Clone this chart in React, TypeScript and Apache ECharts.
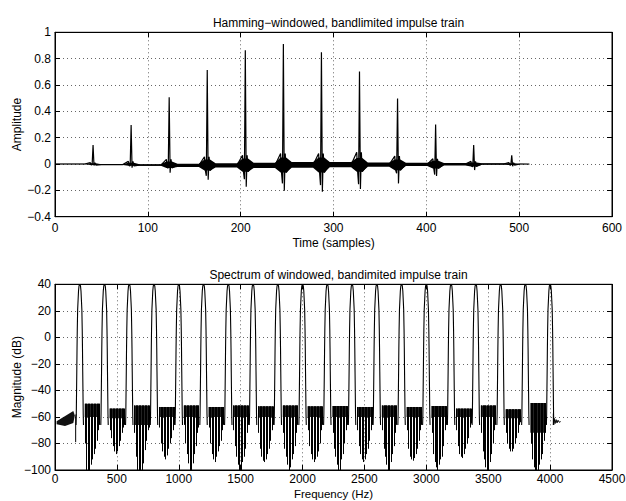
import React, { useEffect, useRef } from "react";
import * as echarts from "echarts";

const FONT = "'Liberation Sans', Arial, Helvetica, sans-serif";

// ---------- Top plot: Hamming-windowed, bandlimited impulse train ----------
const timeTicks = { min: 0, max: 600, interval: 100 };
const ampTicks = { min: -0.4, max: 1, interval: 0.2 };
const pulseTimes = [41, 82, 123, 164, 205, 246, 287, 328, 369, 410, 451, 492];
const pulsePeaks = [0.144, 0.296, 0.507, 0.714, 0.864, 0.912, 0.848, 0.703, 0.497, 0.3, 0.144, 0.066];
const dipBefore = [-0.005, -0.012, -0.03, -0.09, -0.116, -0.147, -0.16, -0.154, -0.07, -0.08, -0.02, -0.008];
const dipAfter = [-0.012, -0.028, -0.066, -0.12, -0.172, -0.203, -0.21, -0.19, -0.147, -0.09, -0.046, -0.017];
const ringUpper = [0.006, 0.01, 0.02, 0.035, 0.042, 0.05, 0.05, 0.045, 0.035, 0.024, 0.012, 0.006];
const ringLower = [-0.008, -0.014, -0.03, -0.05, -0.058, -0.065, -0.065, -0.058, -0.048, -0.034, -0.018, -0.008];
const ringSpikeUp = [0.01, 0.02, 0.035, 0.055, 0.066, 0.08, 0.08, 0.09, 0.06, 0.04, 0.02, 0.01];
const gapCenter = [0, -0.004, -0.008, -0.01, -0.01, -0.01, -0.007, -0.005, -0.005, -0.003, -0.002, 0, 0];
const gapHalf = [0.002, 0.003, 0.006, 0.012, 0.016, 0.02, 0.022, 0.02, 0.016, 0.013, 0.009, 0.005, 0.002];
const signalEnd = 511;

// ---------- Bottom plot: spectrum ----------
const freqTicks = { min: 0, max: 4500, interval: 500 };
const dbTicks = { min: -100, max: 40, interval: 20 };
const harmonics = [200, 400, 600, 800, 1000, 1200, 1400, 1600, 1800, 2000, 2200, 2400, 2600, 2800, 3000, 3200, 3400, 3600, 3800, 4000];
const lobeOffsets = [-30, -28, -26, -24, -22, -20, -17, -14, -10, -6, 0, 6, 10, 14, 17, 20, 22, 24, 26, 28, 30];
const lobeDb = [-66, -58, -42, -26, -8, 6, 21, 27, 35, 38.8, 40, 38.8, 35, 27, 21, 6, -8, -26, -42, -58, -66];
const bandTops = [-50, -53.7, -51.3, -52.5, -51.3, -52.5, -51.3, -52, -51.3, -52, -51.8, -52.5, -51.3, -52.5, -51.8, -53.7, -51.3, -54.2, -49.5];
const solidBottoms = [-60, -61, -66, -60, -60, -60, -60, -60, -60, -60, -60, -60, -60, -60, -60, -60, -60, -61, -72];
const stripeOffsets = [42, 54, 66, 78, 90, 102, 114, 126, 138, 150, 158];
const stripeDepths = [
  [-80, -100, -100, -100, -96, -92, -88, -84, -78, -70, -66],
  [-70, -76, -82, -86, -88, -86, -82, -78, -72, -68, -66],
  [-72, -90, -100, -100, -100, -100, -95, -85, -78, -70, -68],
  [-68, -80, -86, -90, -92, -89, -84, -80, -76, -70, -66],
  [-66, -80, -88, -95, -100, -100, -95, -88, -82, -72, -68],
  [-68, -80, -88, -92, -94, -90, -86, -82, -78, -70, -66],
  [-70, -82, -90, -96, -100, -100, -94, -90, -84, -72, -66],
  [-72, -84, -90, -93, -94, -92, -88, -84, -78, -70, -66],
  [-72, -84, -90, -96, -100, -98, -92, -88, -82, -72, -66],
  [-70, -82, -88, -92, -94, -92, -90, -86, -80, -70, -66],
  [-72, -84, -90, -96, -100, -100, -92, -88, -80, -70, -66],
  [-70, -82, -88, -92, -94, -92, -88, -84, -78, -70, -66],
  [-70, -84, -90, -96, -100, -100, -94, -88, -82, -72, -66],
  [-70, -84, -90, -92, -93, -91, -88, -84, -78, -70, -66],
  [-72, -88, -94, -98, -100, -96, -92, -90, -82, -70, -66],
  [-70, -82, -88, -90, -91, -88, -84, -80, -76, -68, -65],
  [-72, -86, -92, -98, -100, -98, -94, -88, -80, -70, -66],
  [-72, -80, -84, -86, -86, -84, -80, -76, -72, -66, -64],
  [-80, -92, -98, -100, -100, -100, -96, -92, -88, -78, -72],
];
const lowRegionEdge = [[13, -63.3], [148, -55.5], [160, -59], [148, -64.5], [81, -66.8], [13, -65.5]];
const firstLobeTail = [[167, -79], [167, -60], [170, -58]];
const tailTrace = [[4026, -57.4], [4026, -66], [4032, -61], [4040, -65], [4048, -62], [4056, -64.5], [4064, -62.5], [4074, -64], [4085, -63.5]];

const PLATEAU = 9; // samples from a pulse where the ringing band settles

const fmtNum = (v: number) => {
  const r = Math.round(v * 10) / 10;
  return r < 0 ? "\u2212" + String(-r) : String(r);
};

function mainX(gi: number, t: any, name: string, gap: number, labelMargin: number, nameSize: number) {
  return {
    type: "value", gridIndex: gi, position: "bottom", min: t.min, max: t.max, interval: t.interval,
    axisLine: { show: true, onZero: false, lineStyle: { color: "#000", width: 1 } },
    axisTick: { show: true, inside: true, length: 5, lineStyle: { color: "#000" } },
    axisLabel: { color: "#000", fontSize: 12, fontFamily: FONT, margin: labelMargin, formatter: fmtNum },
    splitLine: { show: true, lineStyle: { color: "#000", type: [1, 3], width: 1, opacity: 0.6 } },
    name, nameLocation: "middle", nameGap: gap, nameMoveOverlap: false,
    nameTextStyle: { color: "#000", fontSize: nameSize, fontFamily: FONT, lineHeight: nameSize },
  };
}
function mirrorX(gi: number, t: any) {
  return {
    type: "value", gridIndex: gi, position: "top", min: t.min, max: t.max, interval: t.interval,
    axisLine: { show: true, onZero: false, lineStyle: { color: "#000", width: 1 } },
    axisTick: { show: true, inside: true, length: 5, lineStyle: { color: "#000" } },
    axisLabel: { show: false }, splitLine: { show: false },
  };
}
function mainY(gi: number, t: any, name: string) {
  return {
    type: "value", gridIndex: gi, position: "left", min: t.min, max: t.max, interval: t.interval,
    axisLine: { show: true, onZero: false, lineStyle: { color: "#000", width: 1 } },
    axisTick: { show: true, inside: true, length: 5, lineStyle: { color: "#000" } },
    axisLabel: { color: "#000", fontSize: 12, fontFamily: FONT, margin: 4, formatter: fmtNum },
    splitLine: { show: true, lineStyle: { color: "#000", type: [1, 3], width: 1, opacity: 0.6 } },
    name, nameLocation: "middle", nameGap: 32, nameRotate: 90, nameMoveOverlap: false,
    nameTextStyle: { color: "#000", fontSize: 12, fontFamily: FONT },
  };
}
function mirrorY(gi: number, t: any) {
  return {
    type: "value", gridIndex: gi, position: "right", min: t.min, max: t.max, interval: t.interval,
    axisLine: { show: true, onZero: false, lineStyle: { color: "#000", width: 1 } },
    axisTick: { show: true, inside: true, length: 5, lineStyle: { color: "#000" } },
    axisLabel: { show: false }, splitLine: { show: false },
  };
}

function buildOption() {
  // spike trace through pulses
  const spikePts: number[][] = [[0, 0]];
  pulseTimes.forEach((t, j) => {
    spikePts.push([t - PLATEAU, gapCenter[j]]);
    spikePts.push([t - 3, ringSpikeUp[j]], [t - 2, ringLower[j]]);
    spikePts.push([t - 1, dipBefore[j]], [t, pulsePeaks[j]], [t + 1, dipAfter[j]]);
    spikePts.push([t + 2, ringSpikeUp[j]], [t + 3, ringLower[j]]);
    spikePts.push([t + PLATEAU, gapCenter[j + 1]]);
  });
  spikePts.push([signalEnd, 0]);

  // ringing band polygon
  const upper: number[][] = [[0, gapCenter[0] + gapHalf[0]]];
  const lower: number[][] = [[0, gapCenter[0] - gapHalf[0]]];
  pulseTimes.forEach((t, j) => {
    upper.push([t - PLATEAU, gapCenter[j] + gapHalf[j]], [t - 3, ringUpper[j]], [t + 3, ringUpper[j]], [t + PLATEAU, gapCenter[j + 1] + gapHalf[j + 1]]);
    lower.push([t - PLATEAU, gapCenter[j] - gapHalf[j]], [t - 3, ringLower[j]], [t + 3, ringLower[j]], [t + PLATEAU, gapCenter[j + 1] - gapHalf[j + 1]]);
  });
  upper.push([signalEnd, 0.001]);
  lower.push([signalEnd, -0.001]);
  const bandPoly = upper.concat(lower.slice().reverse());

  const bandRects = bandTops.map((top, g) => [harmonics[g] + 40, harmonics[g + 1] - 40, top, solidBottoms[g]]);
  const stripes: number[][] = [];
  stripeDepths.forEach((row, g) => {
    row.forEach((d, i) => stripes.push([harmonics[g] + stripeOffsets[i], bandTops[g], d]));
  });

  return {
    animation: false,
    backgroundColor: "#fff",
    textStyle: { fontFamily: FONT },
    grid: [
      { left: 55, right: 14, top: 32.3, height: 184.4, show: true, borderColor: "#000", borderWidth: 1, backgroundColor: "#fff", containLabel: false, outerBoundsMode: "none" },
      { left: 55, right: 14, top: 284.3, height: 185.7, show: true, borderColor: "#000", borderWidth: 1, backgroundColor: "#fff", containLabel: false, outerBoundsMode: "none" },
    ],
    title: [
      { text: "Hamming\u2212windowed, bandlimited impulse train", left: 333.5, top: 12, textAlign: "center",
        textStyle: { fontSize: 12, fontWeight: "normal", color: "#000", fontFamily: FONT } },
      { text: "Spectrum of windowed, bandimited impulse train", left: 333.5, top: 263.5, textAlign: "center",
        textStyle: { fontSize: 12, fontWeight: "normal", color: "#000", fontFamily: FONT } },
    ],
    xAxis: [
      mainX(0, timeTicks, "Time (samples)", 20, 5, 12), mirrorX(0, timeTicks),
      mainX(1, freqTicks, "Frequency (Hz)", 18.5, 3, 11.5), mirrorX(1, freqTicks),
    ],
    yAxis: [mainY(0, ampTicks, "Amplitude"), mirrorY(0, ampTicks), mainY(1, dbTicks, "Magnitude (dB)"), mirrorY(1, dbTicks)],
    series: [
      {
        type: "custom", xAxisIndex: 0, yAxisIndex: 0, silent: true, clip: true,
        data: [[0, 0]],
        renderItem: (params: any, api: any) => ({
          type: "polygon",
          shape: { points: bandPoly.map((p) => api.coord(p)) },
          style: { fill: "#000" },
        }),
      },
      {
        type: "line", xAxisIndex: 0, yAxisIndex: 0, silent: true, symbol: "none",
        data: spikePts, lineStyle: { color: "#000", width: 1.2 },
      },
      {
        type: "custom", xAxisIndex: 2, yAxisIndex: 2, silent: true, clip: true,
        data: bandRects,
        renderItem: (params: any, api: any) => {
          const a = api.coord([api.value(0), api.value(2)]);
          const b = api.coord([api.value(1), api.value(3)]);
          return { type: "rect", shape: { x: a[0], y: a[1], width: b[0] - a[0], height: b[1] - a[1] }, style: { fill: "#222" } };
        },
      },
      {
        type: "custom", xAxisIndex: 2, yAxisIndex: 2, silent: true, clip: true,
        data: stripes,
        renderItem: (params: any, api: any) => {
          const a = api.coord([api.value(0), api.value(1)]);
          const b = api.coord([api.value(0), api.value(2)]);
          const x = Math.round(a[0]) + 0.5;
          return { type: "line", shape: { x1: x, y1: a[1], x2: x, y2: b[1] }, style: { stroke: "#000", lineWidth: 1 } };
        },
      },
      {
        type: "custom", xAxisIndex: 2, yAxisIndex: 2, silent: true, clip: true,
        data: harmonics.map((h) => [h, 40]),
        renderItem: (params: any, api: any) => {
          const h = api.value(0);
          return {
            type: "polyline",
            shape: { points: lobeOffsets.map((o, i) => api.coord([h + o, lobeDb[i]])) },
            style: { stroke: "#000", lineWidth: 1.1, fill: null },
          };
        },
      },
      {
        type: "custom", xAxisIndex: 2, yAxisIndex: 2, silent: true, clip: true,
        data: [[0, 0]],
        renderItem: (params: any, api: any) => ({
          type: "polygon",
          shape: { points: lowRegionEdge.map((p) => api.coord(p)) },
          style: { fill: "#111" },
        }),
      },
      {
        type: "line", xAxisIndex: 2, yAxisIndex: 2, silent: true, symbol: "none",
        data: firstLobeTail, lineStyle: { color: "#000", width: 1 },
      },
      {
        type: "line", xAxisIndex: 2, yAxisIndex: 2, silent: true, symbol: "none",
        data: tailTrace, lineStyle: { color: "#000", width: 1 },
      },
    ],
  };
}

export default function App() {
  const ref = useRef<HTMLDivElement>(null);
  useEffect(() => {
    document.body.style.margin = "0";
    if (!ref.current) return;
    const chart = echarts.init(ref.current, null, { renderer: "svg" });
    chart.setOption(buildOption() as any);
    return () => chart.dispose();
  }, []);
  return <div ref={ref} style={{ width: 626, height: 501 }} />;
}
